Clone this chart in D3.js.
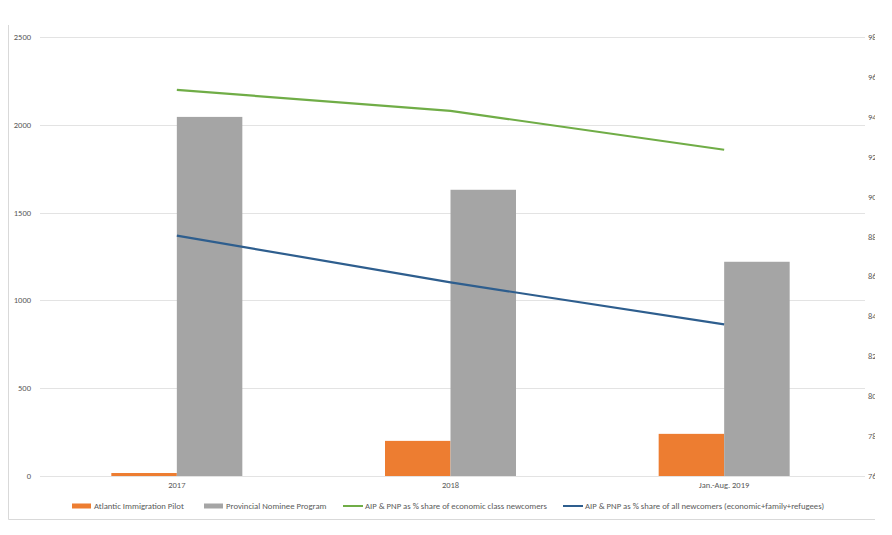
<!DOCTYPE html>
<html><head><meta charset="utf-8">
<script src="https://cdn.jsdelivr.net/npm/d3@7"></script>
<style>body{margin:0;background:#fff}svg{display:block;font-family:Calibri,"Liberation Sans","Open Sans",sans-serif}</style>
</head><body>
<svg id="c" width="892" height="535"></svg>
<script>
const categories = ["2017", "2018", "Jan.-Aug. 2019"];
const aipValues = [17, 200, 240];
const pnpValues = [2045, 1630, 1220];
const economicShare = [95.35, 94.3, 92.35];
const allShare = [88.05, 85.7, 83.6];
const leftTicks = [0, 500, 1000, 1500, 2000, 2500];
const rightTicks = [76, 78, 80, 82, 84, 86, 88, 90, 92, 94, 96, 98];
const seriesNames = ["Atlantic Immigration Pilot", "Provincial Nominee Program",
  "AIP & PNP as % share of economic class newcomers",
  "AIP & PNP as % share of all newcomers (economic+family+refugees)"];
const colors = ["#ED7D31", "#A5A5A5", "#70AD47", "#2E5E8E"];

const svg = d3.select("#c");
svg.append("defs").append("clipPath").attr("id","clip")
  .append("rect").attr("x",0).attr("y",0).attr("width",875).attr("height",535);
const root = svg.append("g").attr("clip-path","url(#clip)");

// frame
root.append("path").attr("d","M8.5,25 V519.5 H877").attr("fill","none").attr("stroke","#d9d9d9").attr("stroke-width",1);

const x0 = d3.scaleBand().domain(categories).range([40, 861]);
const barW = 65.5;
const yL = d3.scaleLinear().domain([0, 2500]).range([476, 37]);
const yR = d3.scaleLinear().domain([76, 98]).range([476, 37]);

// gridlines
root.append("g").selectAll("line").data(leftTicks).join("line")
  .attr("x1",40).attr("x2",865).attr("y1",d=>Math.round(yL(d))+0.5).attr("y2",d=>Math.round(yL(d))+0.5)
  .attr("stroke","#e3e3e3").attr("stroke-width",1);

// left axis labels
root.append("g").selectAll("text").data(leftTicks).join("text")
  .attr("x",31).attr("y",d=>yL(d)+3).attr("text-anchor","end")
  .attr("font-size",8.5).attr("fill","#595959").text(d=>d);

// right axis labels (clipped at edge)
root.append("g").selectAll("text").data(rightTicks).join("text")
  .attr("x",868).attr("y",d=>yR(d)+3).attr("text-anchor","start")
  .attr("font-size",8.5).attr("fill","#595959").text(d=>d);

// bars
const cx = c => x0(c) + x0.bandwidth()/2;
root.append("g").selectAll("rect").data(categories).join("rect")
  .attr("x",c=>cx(c)-barW).attr("width",barW)
  .attr("y",(c,i)=>yL(aipValues[i])).attr("height",(c,i)=>yL(0)-yL(aipValues[i]))
  .attr("fill",colors[0]);
root.append("g").selectAll("rect").data(categories).join("rect")
  .attr("x",c=>cx(c)).attr("width",barW)
  .attr("y",(c,i)=>yL(pnpValues[i])).attr("height",(c,i)=>yL(0)-yL(pnpValues[i]))
  .attr("fill",colors[1]);

// lines
const line = d3.line().x((d,i)=>cx(categories[i])).y(d=>yR(d));
root.append("path").datum(economicShare).attr("d",line).attr("fill","none")
  .attr("stroke",colors[2]).attr("stroke-width",2.2);
root.append("path").datum(allShare).attr("d",line).attr("fill","none")
  .attr("stroke",colors[3]).attr("stroke-width",2.2);

// category labels
root.append("g").selectAll("text").data(categories).join("text")
  .attr("x",c=>cx(c)).attr("y",488).attr("text-anchor","middle")
  .attr("font-size",8.5).attr("fill","#595959").text(c=>c);

// legend
const legX = [72, 204, 343, 563];
const lg = root.append("g");
seriesNames.forEach((n,i)=>{
  if (i<2) lg.append("rect").attr("x",legX[i]).attr("y",503.5).attr("width",19).attr("height",5).attr("fill",colors[i]);
  else lg.append("line").attr("x1",legX[i]).attr("x2",legX[i]+20).attr("y1",506).attr("y2",506).attr("stroke",colors[i]).attr("stroke-width",2);
  lg.append("text").attr("x",legX[i]+22).attr("y",509).attr("font-size",8.7).attr("fill","#595959").text(n);
});
</script>
</body></html>
